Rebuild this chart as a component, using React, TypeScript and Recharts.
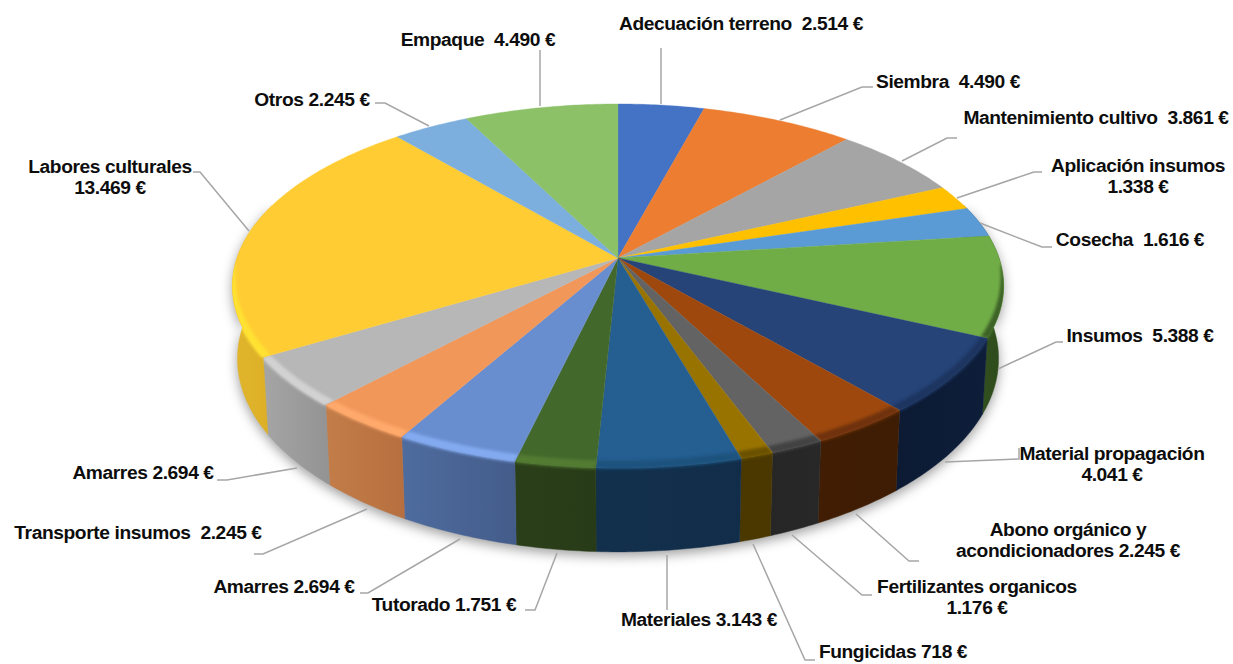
import React from "react";
import { PieChart, Pie } from "recharts";

const names = ["Adecuación terreno","Siembra","Mantenimiento cultivo","Aplicación insumos","Cosecha","Insumos","Material propagación","Abono orgánico y acondicionadores","Fertilizantes organicos","Fungicidas","Materiales","Tutorado","Amarres","Transporte insumos","Amarres","Labores culturales","Otros","Empaque"];
const values = [2514,4490,3861,1338,1616,5388,4041,2245,1176,718,3143,1751,2694,2245,2694,13469,2245,4490];
const topColors = ["#4472C4","#ED7D31","#A5A5A5","#FFC000","#5B9BD5","#70AD47","#264478","#9E480E","#636363","#997300","#255E91","#43682B","#698ED0","#F1975A","#B7B7B7","#FFCD33","#7CAFDD","#8CC168"];
const wallFrom = ["#2a4578","#8a4a1d","#666666","#8a6a00","#36597c","#31501e","#0c1a33","#401d03","#262626","#4a3800","#12304c","#2a3f19","#4f6c9f","#c27d49","#a5a5a5","#e0b52c","#5f87a8","#5f8446"];
const wallTo = ["#2a4578","#8a4a1d","#666666","#8a6a00","#36597c","#2e4a1b","#0e1e3a","#3e1d05","#282828","#4a3800","#122d49","#283b18","#435c8a","#b76f3f","#939393","#dcae27","#5f87a8","#5f8446"];
const rimColors = ["#4472C4","#ED7D31","#A5A5A5","#FFC000","#5B9BD5","#3d6226","#1b3460","#6f3309","#424242","#6b5100","#1e527e","#527c33","#83aaf0","#ffa96c","#d2d2d2","#ffe233","#7CAFDD","#8CC168"];

// Label text placement (centre x, first baseline), and how each label's text is broken
const labelAt = [[741,30],[948,88],[1096,124],[1138,172],[1130,246],[1140,342],[1112,460],[1068,536],[977,593],[893,658],[699,626],[444,611],[284,593],[138,539],[143,479],[110,173],[312,106],[478,46]];
const breakAfter: Record<number, string> = { 3: "value", 6: "value", 7: "acond", 8: "value", 15: "value" };
const wideGap = [0, 1, 2, 4, 5, 13, 17];
// Leader line routes
const leaders = [
  [[661,104],[661,48]],
  [[780,120],[862,87],[873,87]],
  [[902,161],[947,138],[957,138]],
  [[957,198],[1034,172],[1042,172]],
  [[980,223],[1042,247],[1052,247]],
  [[998,369],[1056,342],[1063,342]],
  [[945,462],[1019,459],[1019,448]],
  [[856,514],[909,561],[919,561]],
  [[792,535],[862,595],[872,595]],
  [[753,544],[805,660],[815,660]],
  [[667,555],[667,610]],
  [[557,553],[535,610],[525,610]],
  [[460,539],[368,593],[360,593]],
  [[367,509],[263,554],[254,554]],
  [[297,468],[227,480],[217,480]],
  [[249,231],[200,172],[193,172]],
  [[429,126],[385,103],[375,103]],
  [[540,106],[540,50]],
];

const CX = 618, CY = 258;
const HR = 381, VR = 177.7, PERSP = 0.1538, DEPTH = 71;

const tableRows = names.map((name, i) => ({ name, value: values[i], idx: i, fill: topColors[i] }));

type P = { x: number; y: number; w: number };
const project = (clockDeg: number, r = 1): P => {
  const a = (clockDeg * Math.PI) / 180;
  const u = Math.sin(a) * r, v = Math.cos(a) * r;
  const w = 1 + PERSP * v;
  return { x: CX + (HR * u) / w, y: CY - (VR * v) / w, w };
};
const lower = (p: P): P => ({ x: CX + (p.x - CX) * 0.987, y: p.y + DEPTH / p.w, w: p.w });
const angles = (a0: number, a1: number) => {
  const n = Math.max(2, Math.ceil(Math.abs(a1 - a0) / 0.75));
  const out: number[] = [];
  for (let i = 0; i <= n; i++) out.push(a0 + ((a1 - a0) * i) / n);
  return out;
};
const samples = (a0: number, a1: number, r = 1) => angles(a0, a1).map((t) => project(t, r));
const toD = (pts: { x: number; y: number }[]) =>
  pts.map((p, i) => `${i ? "L" : "M"}${p.x.toFixed(2)} ${p.y.toFixed(2)}`).join("");

const WALL_A = 72, WALL_B = 288;
const RIM_A = 92, RIM_B = 268;

const wallPath = (a0: number, a1: number) => {
  const s = Math.max(a0, WALL_A), e = Math.min(a1, WALL_B);
  if (e <= s) return "";
  const top = samples(s, e);
  return toD([...top, ...top.map(lower).reverse()]) + "Z";
};

const WallShape = (props: any) => {
  const a0 = 90 - props.startAngle, a1 = 90 - props.endAngle;
  const d = wallPath(a0, a1);
  if (!d) return <g />;
  const i = props.idx;
  return (
    <g>
      <defs>
        <linearGradient id={`wall${i}`} x1="0" x2="1" y1="0" y2="0">
          <stop offset="0" stopColor={wallFrom[i]} />
          <stop offset="1" stopColor={wallTo[i]} />
        </linearGradient>
      </defs>
      <path d={d} fill={`url(#wall${i})`} stroke={`url(#wall${i})`} strokeWidth={0.4} />
    </g>
  );
};

const TopShape = (props: any) => {
  const a0 = 90 - props.startAngle, a1 = 90 - props.endAngle;
  const i = props.idx;
  const face = `M${CX} ${CY}` + toD(samples(a0, a1)).replace("M", "L") + "Z";
  const s = Math.max(a0, RIM_A), e = Math.min(a1, RIM_B);
  let rim = "";
  if (e > s) {
    const ts = angles(s, e);
    const taper = (t: number) => Math.pow(Math.sin((((t - RIM_A) / (RIM_B - RIM_A)) * Math.PI)), 0.6);
    const outer = ts.map((t) => project(t, 1.004));
    const inner = ts.map((t) => project(t, 1 - 0.03 * taper(t))).reverse();
    rim = toD([...outer, ...inner]) + "Z";
  }
  return (
    <g>
      <defs>
        <filter id={`rimBlur${i}`} x="-20%" y="-30%" width="140%" height="160%">
          <feGaussianBlur stdDeviation={1.4} />
        </filter>
        <clipPath id={`rimClip${i}`}>
          <path d={face} />
          {wallPath(a0, a1) ? <path d={wallPath(a0, a1)} /> : null}
        </clipPath>
      </defs>
      <path d={face} fill={topColors[i]} stroke={topColors[i]} strokeWidth={0.4} />
      {rim ? (
        <g clipPath={`url(#rimClip${i})`}>
          <path d={rim} fill={rimColors[i]} filter={`url(#rimBlur${i})`} />
        </g>
      ) : null}
    </g>
  );
};

const LabelText = (props: any) => {
  const i = props.idx ?? props.index;
  const [x, y] = labelAt[i];
  const money = `${values[i].toLocaleString("de-DE")} €`;
  const name = names[i];
  const gap = wideGap.includes(i) ? "\u00a0 " : " ";
  let lines = [`${name}${gap}${money}`];
  if (breakAfter[i] === "value") lines = [name, money];
  if (breakAfter[i] === "acond") lines = ["Abono orgánico y", `acondicionadores ${money}`];
  return (
    <text x={x} y={y} textAnchor="middle" fontFamily="'Liberation Sans', Arial, sans-serif" fontWeight={700} fontSize={19.2} letterSpacing={-0.4} fill="#0d0d0d">
      {lines.map((l, k) => (
        <tspan key={k} x={x} dy={k ? 21 : 0}>{l}</tspan>
      ))}
    </text>
  );
};

const LeaderLine = (props: any) => {
  const i = props.payload?.idx ?? props.index;
  return (
    <polyline points={leaders[i].map((p) => p.join(",")).join(" ")} fill="none" stroke="#a6a6a6" strokeWidth={1.5} />
  );
};

export default function App() {
  return (
    <div style={{ position: "absolute", left: 0, top: 0, width: 1233, height: 664, background: "#fff" }}>
      <style>{`.wall-pie { filter: drop-shadow(0 4px 6px rgba(0,0,0,0.38)); }`}</style>
      <PieChart width={1233} height={664} margin={{ top: 0, right: 0, bottom: 0, left: 0 }}>
        <Pie
          className="wall-pie"
          data={tableRows}
          dataKey="value"
          nameKey="name"
          cx={CX}
          cy={CY}
          outerRadius={170}
          startAngle={90}
          endAngle={-270}
          stroke="none"
          isAnimationActive={false}
          shape={WallShape}
        />
        <Pie
          data={tableRows}
          dataKey="value"
          nameKey="name"
          cx={CX}
          cy={CY}
          outerRadius={170}
          startAngle={90}
          endAngle={-270}
          stroke="none"
          isAnimationActive={false}
          shape={TopShape}
          label={LabelText}
          labelLine={LeaderLine}
        />
      </PieChart>
    </div>
  );
}
